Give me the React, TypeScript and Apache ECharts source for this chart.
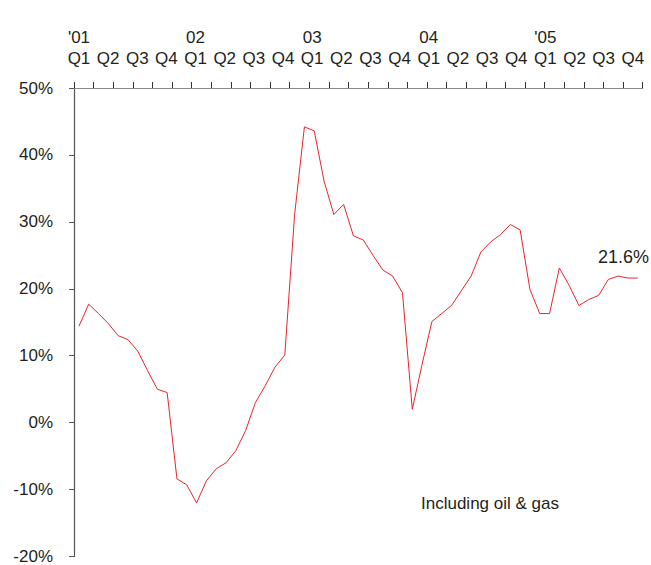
import React, { useEffect, useRef } from "react";
import * as echarts from "echarts";

const values: number[] = [
  14.4, 17.7, 16.3, 14.8, 13.0, 12.4, 10.7, 7.8, 5.0, 4.5,
  -8.4, -9.3, -12.0, -8.7, -6.9, -6.0, -4.2, -1.2, 3.0, 5.5,
  8.3, 10.1, 31.1, 44.2, 43.6, 36.1, 31.1, 32.6, 27.9, 27.3,
  25.0, 22.8, 21.9, 19.4, 2.0, 8.7, 15.1, 16.3, 17.5, 19.7,
  21.9, 25.5, 27.0, 28.1, 29.6, 28.8, 19.9, 16.3, 16.3, 23.1,
  20.5, 17.5, 18.4, 19.0, 21.4, 21.9, 21.6, 21.6,
];
const periods: string[] = values.map((_, i) => "p" + i);
const quarters: string[] = ["Q1", "Q2", "Q3", "Q4"];
const years: string[] = ["'01", "02", "03", "04", "'05"];
const quarterLabels: string[] = years.flatMap(() => quarters);
const yearLabels: string[] = years.flatMap((y) => [y, "", "", ""]);
const lastLabel = "21.6%";
const note = "Including oil & gas";

const FONT = "'Liberation Sans', Arial, Helvetica, sans-serif";
const TEXT = "#231f20";

export default function App() {
  const ref = useRef<HTMLDivElement>(null);
  useEffect(() => {
    document.body.style.margin = "0";
    const chart = echarts.init(ref.current!, null, { renderer: "svg" });
    chart.setOption({
      animation: false,
      backgroundColor: "#ffffff",
      textStyle: { fontFamily: FONT },
      grid: [
        { left: 74, right: 8.3, top: 88, bottom: 6 },
        { left: 64.4, width: 583, top: 88, bottom: 6 },
      ],
      xAxis: [
        {
          type: "category",
          gridIndex: 0,
          position: "top",
          data: periods,
          boundaryGap: true,
          axisLine: { show: true, onZero: false, lineStyle: { color: "#8a8a8a", width: 1.2 } },
          axisTick: { show: true, interval: 1, length: 6, lineStyle: { color: "#333", width: 1 } },
          axisLabel: { show: false },
          splitLine: { show: false },
        },
        {
          type: "category",
          gridIndex: 1,
          position: "top",
          data: quarterLabels,
          axisLine: { show: false, onZero: false },
          axisTick: { show: false },
          axisLabel: { interval: 0, margin: 21, fontSize: 17, color: TEXT, fontFamily: FONT },
        },
        {
          type: "category",
          gridIndex: 1,
          position: "top",
          data: yearLabels,
          axisLine: { show: false, onZero: false },
          axisTick: { show: false },
          axisLabel: { interval: 0, margin: 42, fontSize: 17, color: TEXT, fontFamily: FONT },
        },
      ],
      yAxis: [
        {
          type: "value",
          gridIndex: 0,
          min: -20,
          max: 50,
          interval: 10,
          axisLine: { show: true, onZero: false, lineStyle: { color: "#555", width: 1.2 } },
          axisTick: { show: true, length: 5, lineStyle: { color: "#555" } },
          axisLabel: { formatter: "{value}%", margin: 21, fontSize: 17, color: TEXT, fontFamily: FONT },
          splitLine: { show: false },
        },
        { type: "value", gridIndex: 1, show: false },
      ],
      series: [
        {
          type: "line",
          xAxisIndex: 0,
          yAxisIndex: 0,
          data: values,
          symbol: "none",
          lineStyle: { color: "#e8242c", width: 1 },
        },
      ],
      graphic: [
        {
          type: "text",
          left: 598,
          top: 248,
          style: { text: lastLabel, fontSize: 18, fill: TEXT, fontFamily: FONT },
        },
        {
          type: "text",
          left: 421,
          top: 495,
          style: { text: note, fontSize: 17, fill: TEXT, fontFamily: FONT },
        },
      ],
    });
    return () => chart.dispose();
  }, []);
  return <div ref={ref} style={{ width: 651, height: 565 }} />;
}
